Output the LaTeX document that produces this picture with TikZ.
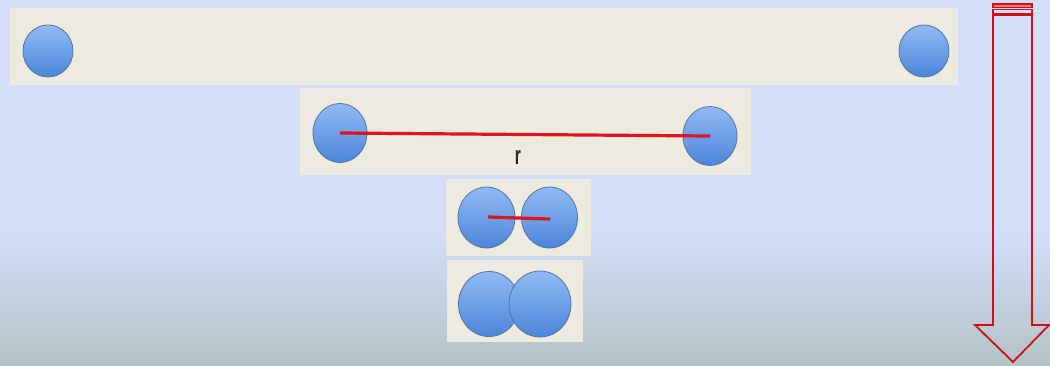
\documentclass[tikz,border=0pt]{standalone}
\usepackage{fontspec}
\setmainfont{Liberation Sans}
\usetikzlibrary{shapes.geometric}
\definecolor{bgtop}{HTML}{D4DEFB}
\definecolor{bgbot}{HTML}{B3C3C5}
\definecolor{panel}{HTML}{EDEAE0}
\definecolor{ballhi}{HTML}{90BAF4}
\definecolor{balllo}{HTML}{4C86DA}
\definecolor{ballrim}{HTML}{56749E}
\definecolor{bondred}{HTML}{E0141E}
\definecolor{arrred}{HTML}{D01018}
\tikzset{
  panelbox/.style={fill=panel, draw=none},
  ball/.style={ellipse, draw=ballrim, line width=0.8pt, top color=ballhi, bottom color=balllo, inner sep=0pt},
  bond/.style={draw=bondred, line width=3.2pt},
  bigarrow/.style={draw=arrred, line width=1.8pt, fill=none},
}
\begin{document}
\begin{tikzpicture}[x=1pt,y=-1pt]
\useasboundingbox (0,0) rectangle (1050,365);
% background
\fill[bgtop] (0,0) rectangle (1050,232);
\shade[top color=bgtop, bottom color=bgbot] (0,230) rectangle (1050,365);
% panels
\fill[panelbox] (10,8) rectangle (958,85);
\fill[panelbox] (300,88) rectangle (751,175);
\fill[panelbox] (446,179) rectangle (591,256);
\fill[panelbox] (447,260) rectangle (583,342);
% row 1
\node[ball, minimum width=50pt, minimum height=52pt] (a1) at (48,51) {};
\node[ball, minimum width=50pt, minimum height=52pt] (b1) at (924,51) {};
% row 2
\node[ball, minimum width=54pt, minimum height=59pt] (a2) at (340,133) {};
\node[ball, minimum width=54pt, minimum height=59pt] (b2) at (710,136) {};
\draw[bond] (a2.center) -- (b2.center);
\node[font=\fontsize{26}{26}\selectfont\bfseries, text=black!85] (r) at (518,157) {\scalebox{0.6}[1]{r}};
% row 3
\node[ball, minimum width=57pt, minimum height=61pt] (a3) at (486.5,217.5) {};
\node[ball, minimum width=56pt, minimum height=61pt] (b3) at (549.5,217.5) {};
\coordinate (c3a) at (488,217);
\coordinate (c3b) at (550,219);
\draw[bond] (c3a) -- (c3b);
% row 4
\node[ball, minimum width=61pt, minimum height=65pt] (a4) at (489,304) {};
\node[ball, minimum width=62pt, minimum height=66pt] (b4) at (540,304) {};
% arrow
\draw[bigarrow] (993,15) -- (1032,15) -- (1032,325) -- (1049,325) -- (1013,362) -- (975,325) -- (993,325) -- cycle;
\draw[arrred, line width=1.4pt, fill=arrred!55] (993,4) rectangle (1032,7.5);
\draw[arrred, line width=1.4pt] (993,9.5) rectangle (1032,13.5);
\end{tikzpicture}
\end{document}
